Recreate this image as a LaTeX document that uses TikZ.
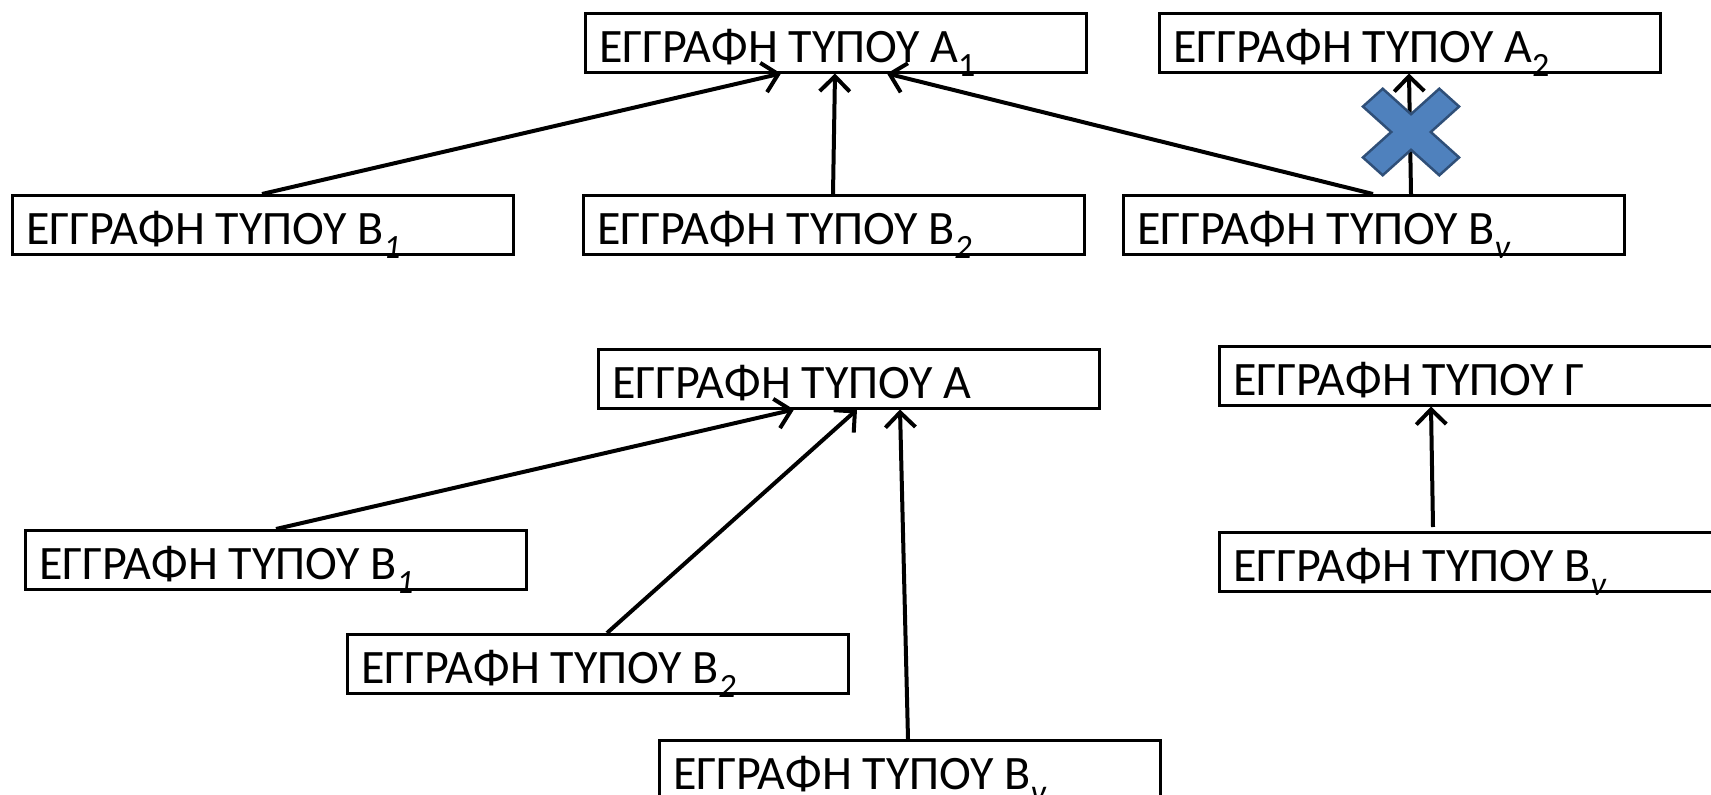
\documentclass[tikz,border=0pt]{standalone}
\usepackage{fontspec}
\setmainfont{Carlito}
\usetikzlibrary{arrows.meta,calc}
\newcommand{\sbs}[1]{\raisebox{-14pt}{\fontsize{34}{34}\selectfont #1}}
\begin{document}
\begin{tikzpicture}[x=1pt,y=-1pt,
  box/.style={draw=black,line width=2.5pt,minimum width=501pt,minimum height=59pt,inner sep=0pt,anchor=north west},
  lbl/.style={anchor=base west,inner sep=0pt,font=\fontsize{48}{52}\selectfont},
  conn/.style={line width=4pt,-{Straight Barb[length=15pt,width=30pt,line width=4pt]}},
  cross/.style={fill=xblue,draw=xedge,line width=2.5pt,line join=miter}]
\definecolor{xblue}{HTML}{4F81BD}
\definecolor{xedge}{HTML}{2F4F78}
\useasboundingbox (0,0) rectangle (1711,795);
\clip (0,0) rectangle (1711,795);
% top group
\node[box] (a1) at (584,12) {};
\node[lbl] at ($(a1.south west)+(15,-11)$) {ΕΓΓΡΑΦΗ ΤΥΠΟΥ Α\sbs{1}};
\node[box] (a2) at (1158,12) {};
\node[lbl] at ($(a2.south west)+(15,-11)$) {ΕΓΓΡΑΦΗ ΤΥΠΟΥ Α\sbs{2}};
\node[box] (b1t) at (11,194) {};
\node[lbl] at ($(b1t.south west)+(15,-11)$) {ΕΓΓΡΑΦΗ ΤΥΠΟΥ Β\sbs{\itshape 1}};
\node[box] (b2t) at (582,194) {};
\node[lbl] at ($(b2t.south west)+(15,-11)$) {ΕΓΓΡΑΦΗ ΤΥΠΟΥ Β\sbs{\itshape 2}};
\node[box] (bnt) at (1122,194) {};
\node[lbl] at ($(bnt.south west)+(15,-11)$) {ΕΓΓΡΑΦΗ ΤΥΠΟΥ Β\sbs{\itshape ν}};
\draw[conn] ($(b1t.north west)+(251,0)$) -- ($(a1.south west)+(197,0)$);
\draw[conn] ($(b2t.north west)+(251,0)$) -- ($(a1.south west)+(251,0)$);
\draw[conn] ($(bnt.north west)+(251,0)$) -- ($(a1.south west)+(303,0)$);
\draw[conn] ($(bnt.north west)+(289,0)$) -- ($(a2.south west)+(251,0)$);
\begin{scope}[shift={(1411,132)},yscale=0.9,rotate=45]
\draw[cross] (14,14) -- (54,14) -- (54,-14) -- (14,-14) -- (14,-54) -- (-14,-54) -- (-14,-14) -- (-54,-14) -- (-54,14) -- (-14,14) -- (-14,54) -- (14,54) -- cycle;
\end{scope}
% bottom group
\node[box] (a) at (597,348) {};
\node[lbl] at ($(a.south west)+(15,-11)$) {ΕΓΓΡΑΦΗ ΤΥΠΟΥ Α};
\node[box] (g) at (1218,345) {};
\node[lbl] at ($(g.south west)+(15,-11)$) {ΕΓΓΡΑΦΗ ΤΥΠΟΥ Γ};
\node[box] (b1b) at (24,529) {};
\node[lbl] at ($(b1b.south west)+(15,-11)$) {ΕΓΓΡΑΦΗ ΤΥΠΟΥ Β\sbs{\itshape 1}};
\node[box] (b2b) at (346,633) {};
\node[lbl] at ($(b2b.south west)+(15,-11)$) {ΕΓΓΡΑΦΗ ΤΥΠΟΥ Β\sbs{\itshape 2}};
\node[box] (bnb) at (658,739) {};
\node[lbl] at ($(bnb.south west)+(15,-11)$) {ΕΓΓΡΑΦΗ ΤΥΠΟΥ Β\sbs{\itshape ν}};
\node[box] (bnr) at (1218,531) {};
\node[lbl] at ($(bnr.south west)+(15,-11)$) {ΕΓΓΡΑΦΗ ΤΥΠΟΥ Β\sbs{\itshape ν}};
\draw[conn] ($(b1b.north west)+(252,0)$) -- ($(a.south west)+(197,0)$);
\draw[conn] ($(b2b.north west)+(261,0)$) -- ($(a.south west)+(260,0)$);
\draw[conn] ($(bnb.north west)+(250,0)$) -- ($(a.south west)+(303,0)$);
\draw[conn] ($(bnr.north west)+(215,-4)$) -- ($(g.south west)+(213,0)$);
\end{tikzpicture}
\end{document}
